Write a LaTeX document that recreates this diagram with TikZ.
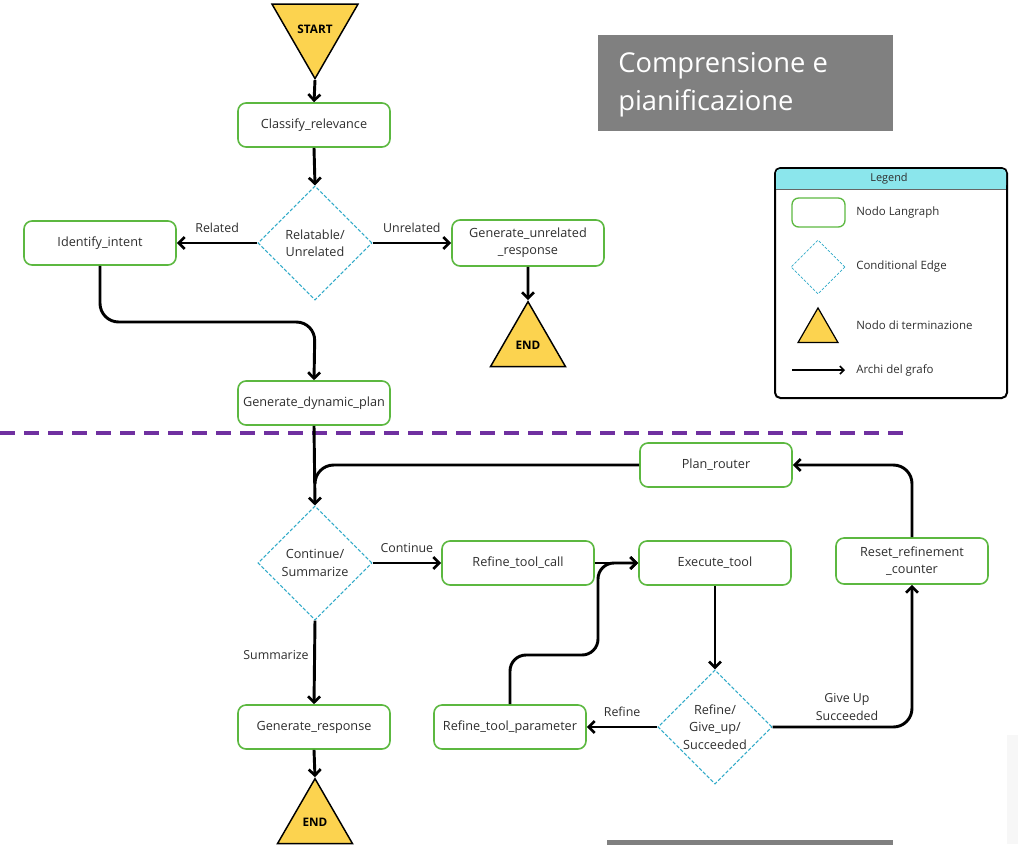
\documentclass[tikz,border=0pt]{standalone}
\usepackage{fontspec}
\setmainfont{Open Sans}
\usetikzlibrary{arrows.meta,shapes.geometric,calc}
\definecolor{nodegreen}{RGB}{92,184,64}
\definecolor{condcyan}{RGB}{48,170,200}
\definecolor{termyellow}{RGB}{252,211,79}
\definecolor{titlegray}{RGB}{128,128,128}
\definecolor{sepviolet}{RGB}{112,48,160}
\definecolor{legendhead}{RGB}{139,230,236}
\definecolor{paleshade}{RGB}{247,247,247}

\begin{document}
\begin{tikzpicture}[x=0.75pt,y=-0.75pt,
  every node/.style={font=\fontsize{9.5}{13}\selectfont, text=black!82},
  proc/.style={draw=nodegreen, line width=1.2pt, rounded corners=6pt, fill=white,
    minimum width=114pt, minimum height=33pt, align=center, inner sep=2pt},
  cond/.style={diamond, aspect=1, draw=condcyan, dash pattern=on 2.6pt off 1.4pt,
    line width=0.8pt, minimum width=85.5pt, minimum height=85.5pt, inner sep=0pt,
    align=center},
  term/.style={regular polygon, regular polygon sides=3, draw=black, line width=1.1pt,
    fill=termyellow, minimum size=65pt, inner sep=0pt, text=black,
    font=\fontsize{8.8}{10}\selectfont\bfseries},
  flow/.style={draw=black, line width=2.2pt, line join=round,
    -{Straight Barb[length=4.5pt,width=9pt,line width=2pt]}},
  plain/.style={draw=black, line width=2.2pt, line join=round},
  lab/.style={font=\fontsize{9.3}{13}\selectfont, align=center},
  legtext/.style={anchor=west, inner sep=0pt, font=\fontsize{8.6}{10}\selectfont},
  titletext/.style={anchor=base west, inner sep=0pt, text=white,
    font=\fontsize{20.5}{24}\selectfont}
]
\useasboundingbox (0,0) rectangle (1018,844);

% faint panel edge at the lower right
\fill[paleshade] (1007,735) rectangle (1018,844);

% title block
\fill[titlegray] (598,35) rectangle (893,131);
\node[titletext] (title1) at (618,72) {Comprensione e};
\node[titletext] (title2) at (618,110) {pianificazione};
\fill[titlegray] (607,840) rectangle (893,846);

% separator between the two phases
\draw[sepviolet, line width=3pt, dash pattern=on 11pt off 7pt] (0,433) -- (908,433);

% --- upper part: relevance and planning
\node[term, shape border rotate=180] (start) at (315,29) {START};
\node[proc] (classify) at (314,125) {Classify\_relevance};
\node[cond] (relev) at (315,243) {Relatable/\\Unrelated};
\node[proc] (intent) at (100,243) {Identify\_intent};
\node[proc, minimum height=34.5pt] (unrel) at (528,243) {Generate\_unrelated\\\_response};
\node[term] (end1) at (528,345) {END};
\node[proc] (plan) at (314,403) {Generate\_dynamic\_plan};

\draw[flow] (start.south) -- (classify.north);
\draw[flow] (classify.south) -- (relev.north);
\draw[flow] (relev.west) -- (intent.east) node[lab, midway, above=3pt] {Related};
\draw[flow] (relev.east) -- (unrel.west) node[lab, midway, above=3pt] {Unrelated};
\draw[flow] (unrel.south) -- (end1.north);
\coordinate (bend1) at (315,322);
\draw[flow, rounded corners=14pt] (intent.south) |- (bend1) -- (plan.north);

% --- lower part: tool execution loop
\node[proc] (router) at (716,465) {Plan\_router};
\node[cond] (contsum) at (315,563) {Continue/\\Summarize};
\node[proc] (refcall) at (518,563) {Refine\_tool\_call};
\node[proc] (exec) at (715,563) {Execute\_tool};
\node[proc, minimum height=34.5pt] (reset) at (912,561) {Reset\_refinement\\\_counter};
\node[cond] (outcome) at (715,727) {Refine/\\Give\_up/\\Succeeded};
\node[proc] (refparam) at (510,727) {Refine\_tool\_parameter};
\node[proc] (answer) at (314,727) {Generate\_response};
\node[term] (end2) at (315,822) {END};

\draw[plain, rounded corners=14pt] (router.west) -| ($(contsum.north)+(0,-25)$);
\draw[flow] (plan.south) -- (contsum.north);
\draw[flow] (contsum.east) -- (refcall.west) node[lab, midway, above=3pt] {Continue};
\draw[flow] (refcall.east) -- (exec.west);
\coordinate (up1) at (510,655);
\coordinate (up2) at (598,655);
\coordinate (up3) at (598,563);
\draw[flow, rounded corners=12pt] (refparam.north) -- (up1) -- (up2) -- (up3) -- (exec.west);
\draw[flow] (exec.south) -- (outcome.north);
\draw[flow] (outcome.west) -- (refparam.east) node[lab, midway, above=3pt] {Refine};
\draw[flow, rounded corners=14pt] (outcome.east) -| (reset.south);
\node[lab] (giveup) at (847,707) {Give Up\\Succeeded};
\draw[flow, rounded corners=14pt] (reset.north) |- (router.east);
\draw[flow] (contsum.south) -- (answer.north);
\node[lab] (sumlab) at (276,655) {Summarize};
\draw[flow] (answer.south) -- (end2.north);

% --- legend
\draw[black, line width=1.5pt, rounded corners=4pt] (775,168) rectangle (1007,398);
\fill[legendhead, rounded corners=3pt] (776,169) rectangle (1006,189);
\fill[legendhead] (776,180) rectangle (1006,189);
\draw[black!60, line width=0.4pt] (776,189) -- (1006,189);
\node[font=\fontsize{8.2}{10}\selectfont] (legtitle) at (889,179) {Legend};
\draw[nodegreen, line width=1pt, rounded corners=5pt] (792,198) rectangle (845,227);
\node[legtext] (leg1) at (856,213) {Nodo Langraph};
\node[cond, minimum width=40.5pt, minimum height=40.5pt, line width=0.6pt,
  dash pattern=on 2pt off 1.2pt] (legdia) at (818,267) {};
\node[legtext] (leg2) at (856,267) {Conditional Edge};
\node[term, minimum size=34.6pt, line width=0.9pt] (legtri) at (818,331) {};
\node[legtext] (leg3) at (856,325) {Nodo di terminazione};
\coordinate (la) at (792,370);
\coordinate (lb) at (845,370);
\draw[black, line width=1.4pt, -{Straight Barb[length=3pt,width=6pt,line width=1.2pt]}] (la) -- (lb);
\node[legtext] (leg4) at (856,370) {Archi del grafo};
\end{tikzpicture}
\end{document}
